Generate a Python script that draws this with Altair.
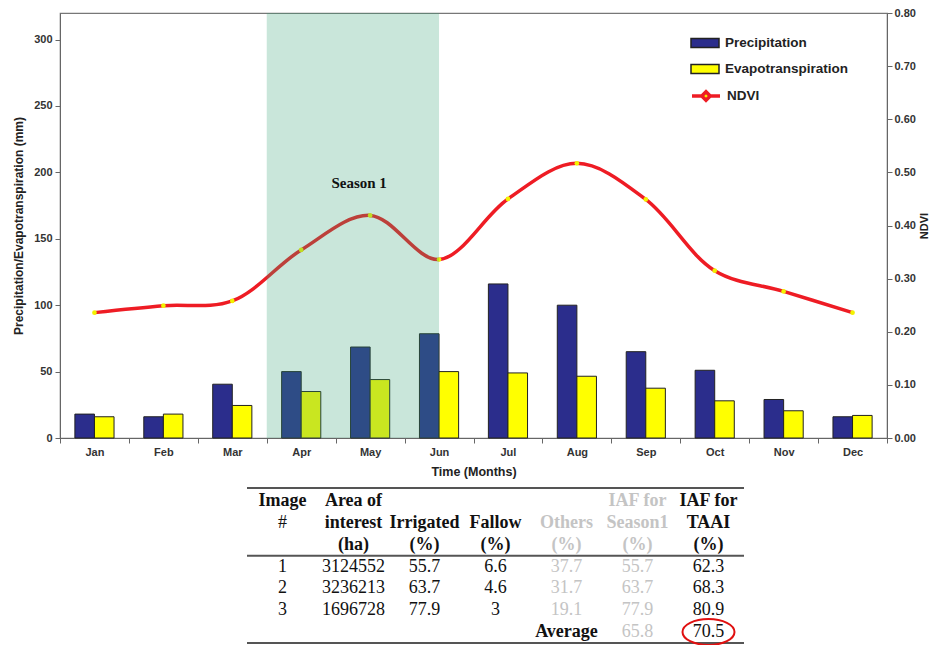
import altair as alt
import pandas as pd

# ---------------- chart data ----------------
months = ["Jan", "Feb", "Mar", "Apr", "May", "Jun", "Jul", "Aug", "Sep", "Oct", "Nov", "Dec"]
precipitation = [18, 16, 40.5, 50, 68.5, 78.5, 116, 100, 65, 51, 29, 16]
evapotranspiration = [16, 18, 24.5, 35, 44, 50, 49, 46.5, 37.5, 28, 20.5, 17]
ndvi = [0.236, 0.249, 0.258, 0.354, 0.419, 0.336, 0.450, 0.517, 0.449, 0.315, 0.276, 0.236]

season_start = "Apr"
season_end = "Jun"
season_label = "Season 1"

left_ticks = [0, 50, 100, 150, 200, 250, 300]
right_ticks = [0.0, 0.1, 0.2, 0.3, 0.4, 0.5, 0.6, 0.7, 0.8]

# ---------------- table data ----------------
table_columns = ["Image #", "Area of interest (ha)", "Irrigated (%)", "Fallow (%)",
                 "Others (%)", "IAF for Season1 (%)", "IAF for TAAI (%)"]
header_line1 = ["Image", "Area of", "", "", "", "IAF for", "IAF for"]
header_line2 = ["#", "interest", "Irrigated", "Fallow", "Others", "Season1", "TAAI"]
header_line3 = ["", "(ha)", "(%)", "(%)", "(%)", "(%)", "(%)"]
table_image = ["1", "2", "3"]
table_area = ["3124552", "3236213", "1696728"]
table_irrigated = ["55.7", "63.7", "77.9"]
table_fallow = ["6.6", "4.6", "3"]
table_others = ["37.7", "31.7", "19.1"]
table_iaf_season1 = ["55.7", "63.7", "77.9"]
table_iaf_taai = ["62.3", "68.3", "80.9"]
average_label = "Average"
average_season1 = "65.8"
average_taai = "70.5"

faded_columns = ["Others (%)", "IAF for Season1 (%)"]

# ---------------- build tables ----------------
month_df = pd.DataFrame({"month": months, "Precipitation": precipitation,
                         "Evapotranspiration": evapotranspiration, "NDVI": ndvi})
month_df["index_name"] = "NDVI"
bars_df = month_df.melt(id_vars=["month"], value_vars=["Precipitation", "Evapotranspiration"],
                        var_name="variable", value_name="mm")
season_df = pd.DataFrame({"start": [season_start], "end": [season_end]})

rows = ["h1", "h2", "h3", "r1", "r2", "r3", "avg"]
cells = []
for i, c in enumerate(table_columns):
    for r, txt in zip(["h1", "h2", "h3"], [header_line1[i], header_line2[i], header_line3[i]]):
        if txt:
            cells.append({"col": c, "row": r, "text": txt,
                          "weight": "normal" if txt == "#" else "bold"})
data_cols = [table_image, table_area, table_irrigated, table_fallow,
             table_others, table_iaf_season1, table_iaf_taai]
for i, c in enumerate(table_columns):
    for j, r in enumerate(["r1", "r2", "r3"]):
        cells.append({"col": c, "row": r, "text": data_cols[i][j], "weight": "normal"})
cells.append({"col": "Others (%)", "row": "avg", "text": average_label, "weight": "bold"})
cells.append({"col": "IAF for Season1 (%)", "row": "avg", "text": average_season1, "weight": "normal"})
cells.append({"col": "IAF for TAAI (%)", "row": "avg", "text": average_taai, "weight": "normal"})
cells_df = pd.DataFrame(cells)
cells_df["tone"] = ["light" if (c in faded_columns and t != average_label) else "dark"
                    for c, t in zip(cells_df["col"], cells_df["text"])]

# ---------------- scales / axes ----------------
x_scale = alt.Scale(domain=months, paddingInner=0, paddingOuter=0)
x_axis = alt.Axis(title="Time (Months)", labelAngle=0, tickBand="extent", labelPadding=3,
                  titlePadding=8, titleFontSize=12.5, tickSize=5)
y_scale = alt.Scale(domain=[0, 320], nice=False, zero=True)
y_axis = alt.Axis(values=left_ticks, title="Precipitation/Evapotranspiration (mm)", grid=False,
                  orient="left", titleFontSize=12, titlePadding=8, labelPadding=3, tickSize=5)
n_scale = alt.Scale(domain=[0, 0.8], nice=False, zero=True)
n_axis = alt.Axis(values=right_ticks, format=".2f", title="NDVI", orient="right", grid=False,
                  titleAngle=270, titleBaseline="top", titleFontSize=11, titlePadding=3,
                  labelPadding=2, tickSize=5)

x_main = alt.X("month:N", scale=x_scale, axis=x_axis)

bar_legend = alt.Legend(orient="none", legendX=630, legendY=15, title=None, direction="vertical",
                        symbolType="M-1,-0.32H1V0.32H-1Z", symbolSize=784,
                        symbolStrokeColor="#222", symbolStrokeWidth=1.5,
                        labelFont="Liberation Sans", labelFontSize=13.5, labelFontWeight="bold",
                        labelColor="#222", labelOffset=5, rowPadding=3)
line_legend = alt.Legend(orient="none", legendX=630, legendY=67, title=None,
                         symbolType="M-1,0H-0.3M0.3,0H1M0,-0.3L0.3,0L0,0.3L-0.3,0Z",
                         symbolSize=784, symbolStrokeWidth=3.5, symbolFillColor="#f2f200",
                         labelFont="Liberation Sans", labelFontSize=13.5, labelFontWeight="bold",
                         labelColor="#222", labelOffset=5)

bars = alt.Chart(bars_df).mark_bar(stroke="#222", strokeWidth=1).encode(
    x=x_main,
    xOffset=alt.XOffset("variable:N", scale=alt.Scale(domain=["Precipitation", "Evapotranspiration"],
                                                       paddingInner=0, paddingOuter=0.76)),
    y=alt.Y("mm:Q", scale=y_scale, axis=y_axis),
    fill=alt.Fill("variable:N", scale=alt.Scale(domain=["Precipitation", "Evapotranspiration"],
                                                range=["#2b2d8c", "#ffff00"]), legend=bar_legend),
)

line = alt.Chart(month_df).mark_line(interpolate="catmull-rom", strokeWidth=3.5).encode(
    x=x_main,
    y=alt.Y("NDVI:Q", scale=n_scale, axis=n_axis),
    stroke=alt.Stroke("index_name:N", scale=alt.Scale(domain=["NDVI"], range=["#ee1c24"]),
                      legend=line_legend),
)
points = alt.Chart(month_df).mark_point(filled=True, color="#f2f200", size=22, opacity=1).encode(
    x=x_main,
    y=alt.Y("NDVI:Q", scale=n_scale, axis=n_axis),
)
season_rect = alt.Chart(season_df).mark_rect(color="#37a376", opacity=0.27).encode(
    x=alt.X("start:N", scale=x_scale, axis=x_axis, bandPosition=0),
    x2=alt.X2("end", bandPosition=0.5),
    y=alt.YDatum(0.8, type="quantitative", scale=n_scale, axis=n_axis),
    y2=alt.Y2Datum(0),
)
season_text = alt.Chart(season_df).mark_text(font="Liberation Serif", fontWeight="bold", fontSize=15,
                                             color="#111", dx=-11).encode(
    x=alt.XDatum("May", type="nominal", scale=x_scale, axis=x_axis),
    y=alt.YDatum(0.48, type="quantitative", scale=n_scale, axis=n_axis),
    text=alt.value(season_label),
)

ndvi_layer = alt.layer(line, points, season_rect, season_text)
main = alt.layer(bars, ndvi_layer).resolve_scale(y="independent")

# ---------------- table ----------------
tx_scale = alt.Scale(domain=table_columns, range=[187, 684], paddingInner=0, paddingOuter=0)
ty_scale = alt.Scale(type="point", domain=rows, range=[488, 619], padding=0)
one = pd.DataFrame({"k": [0]})


def table_rule(row, offset):
    return alt.Chart(one).mark_rule(stroke="#555", strokeWidth=2, yOffset=offset).encode(
        x=alt.XDatum(table_columns[0], type="nominal", scale=tx_scale, axis=None, bandPosition=0),
        x2=alt.X2Datum(table_columns[-1], bandPosition=1),
        y=alt.YDatum(row, type="nominal", scale=ty_scale, axis=None),
    )


tone_color = alt.Color("tone:N", scale=alt.Scale(domain=["dark", "light"], range=["#111111", "#c4c4c4"]),
                       legend=None)
text_bold = alt.Chart(cells_df).transform_filter(alt.datum.weight == "bold").mark_text(
    font="Liberation Serif", fontSize=18, fontWeight="bold", baseline="middle").encode(
    x=alt.X("col:N", scale=tx_scale, axis=None),
    y=alt.Y("row:N", scale=ty_scale, axis=None),
    text="text:N", color=tone_color)
text_norm = alt.Chart(cells_df).transform_filter(alt.datum.weight == "normal").mark_text(
    font="Liberation Serif", fontSize=18, baseline="middle").encode(
    x=alt.X("col:N", scale=tx_scale, axis=None),
    y=alt.Y("row:N", scale=ty_scale, axis=None),
    text="text:N", color=tone_color)
ellipse = alt.Chart(one).mark_point(shape="M-1,0A1,0.5 0 1,0 1,0A1,0.5 0 1,0 -1,0Z", size=2704,
                                    stroke="#e01010", strokeWidth=2, filled=False, opacity=1).encode(
    x=alt.XDatum(table_columns[-1], type="nominal", scale=tx_scale, axis=None),
    y=alt.YDatum("avg", type="nominal", scale=ty_scale, axis=None),
)

table = alt.layer(table_rule("h1", -13), table_rule("h3", 11), table_rule("avg", 11),
                  text_bold, text_norm, ellipse)

chart = alt.layer(main, table).resolve_scale(x="independent", y="independent").properties(
    width=827, height=425,
    padding={"left": 52, "top": 5, "right": 42, "bottom": 207},
    autosize="none",
).configure_axis(
    labelFont="Liberation Sans", labelFontWeight="bold", labelFontSize=11, labelColor="#333",
    titleFont="Liberation Sans", titleFontWeight="bold", titleColor="#222",
    domainColor="#666", tickColor="#666",
).configure_view(stroke="#777", strokeWidth=1.2)

chart.save("out.html", embed_options={"renderer": "svg", "actions": False})
